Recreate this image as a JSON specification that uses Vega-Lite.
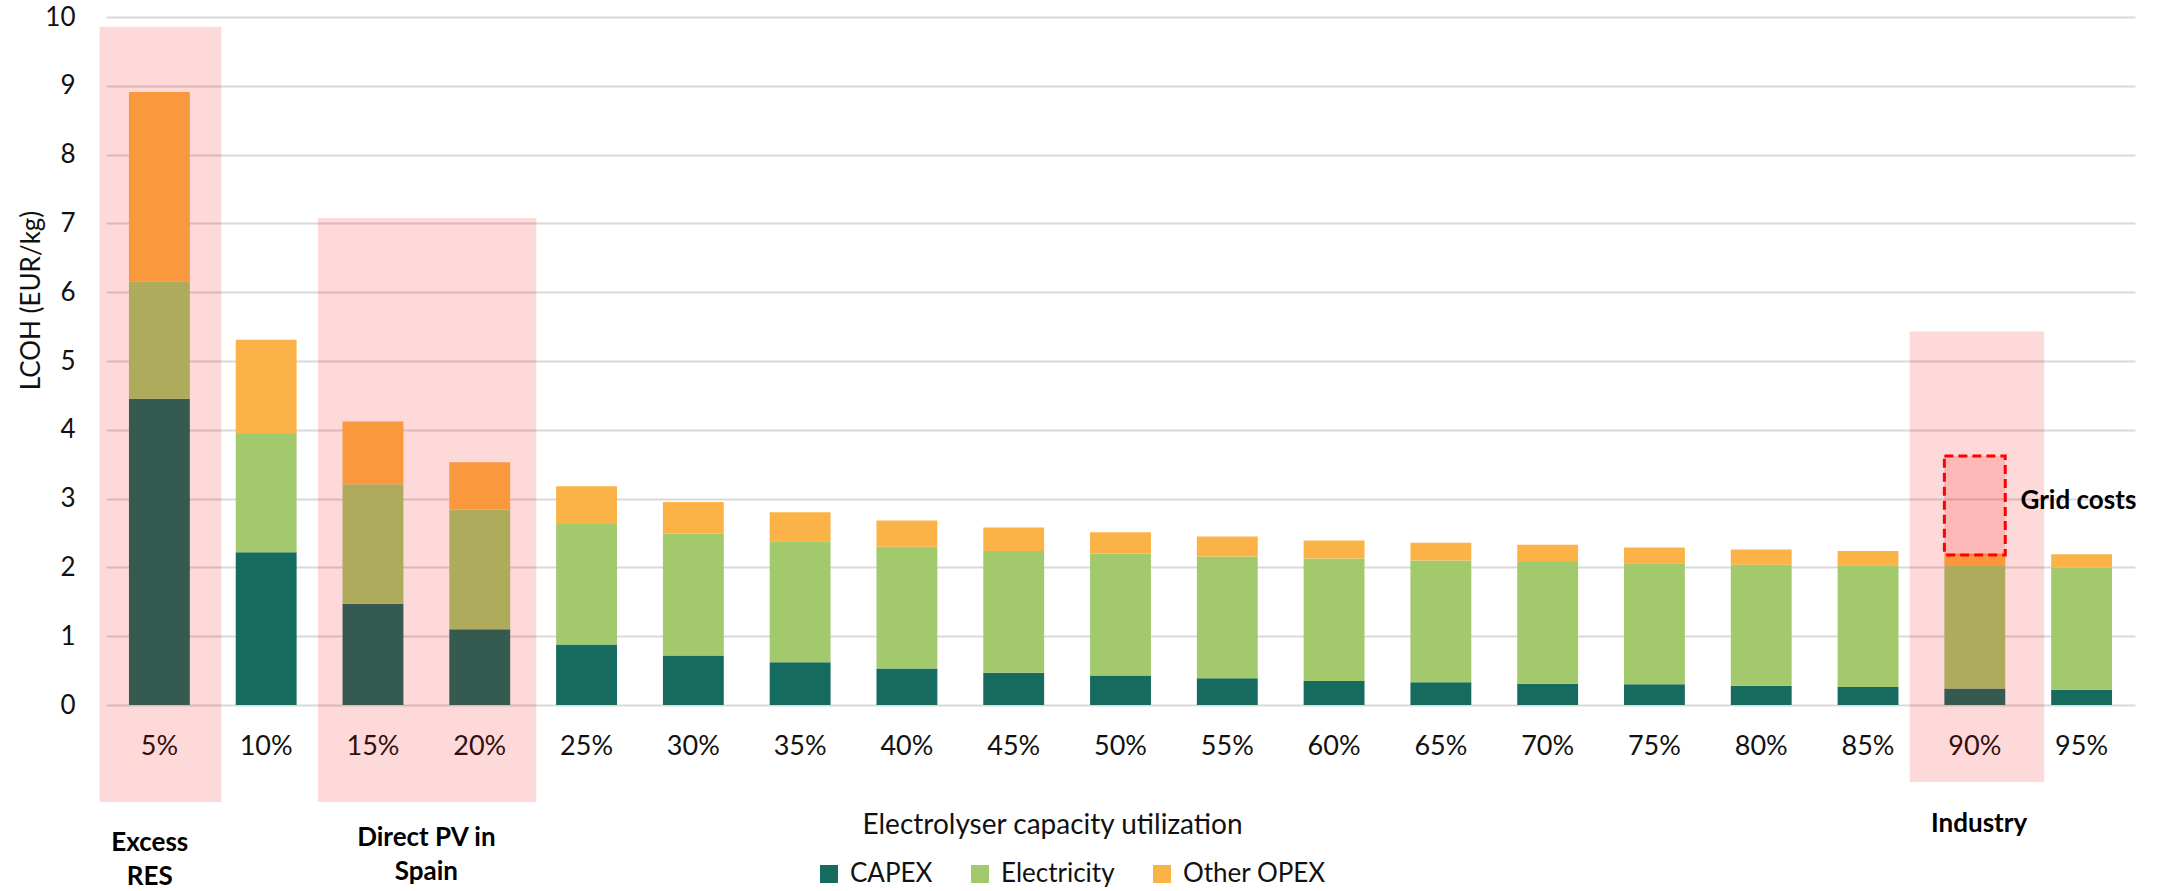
{
  "$schema": "https://vega.github.io/schema/vega-lite/v6.json",
  "width": 2029,
  "height": 688,
  "autosize": {"type": "none"},
  "padding": {"left": 106, "top": 17, "right": 27, "bottom": 186},
  "background": "white",
  "config": {
    "font": "Lato",
    "view": {"stroke": null},
    "axis": {
      "labelFont": "Lato",
      "titleFont": "Lato",
      "labelFontSize": 26,
      "titleFontSize": 26,
      "titleFontWeight": "normal",
      "labelColor": "#111111",
      "titleColor": "#111111",
      "ticks": false,
      "tickSize": 0,
      "domain": false,
      "gridColor": "#d9d9d9",
      "gridWidth": 2
    },
    "axisX": {
      "grid": false,
      "labelAngle": 0,
      "labelFontSize": 27,
      "labelPadding": 41,
      "labelBaseline": "middle",
      "titleFontSize": 28,
      "titleX": 946,
      "titleY": 120,
      "titleAlign": "center",
      "titleBaseline": "middle"
    },
    "axisY": {
      "grid": true,
      "tickCount": 10,
      "labelPadding": 31,
      "titleAngle": -90,
      "titleX": -75,
      "titleY": 283,
      "titleAlign": "center",
      "titleBaseline": "middle"
    },
    "legend": {
      "orient": "none",
      "legendX": 710,
      "legendY": 844,
      "direction": "horizontal",
      "title": null,
      "symbolType": "square",
      "symbolSize": 324,
      "symbolStrokeWidth": 0,
      "labelFont": "Lato",
      "labelFontSize": 26,
      "labelColor": "#111111",
      "labelOffset": 8,
      "columnPadding": 34
    }
  },
  "datasets": {
    "costs": [
      {"u": "5%", "c": "CAPEX", "v": 4.45}, {"u": "5%", "c": "Electricity", "v": 1.71}, {"u": "5%", "c": "Other OPEX", "v": 2.75},
      {"u": "10%", "c": "CAPEX", "v": 2.22}, {"u": "10%", "c": "Electricity", "v": 1.72}, {"u": "10%", "c": "Other OPEX", "v": 1.37},
      {"u": "15%", "c": "CAPEX", "v": 1.47}, {"u": "15%", "c": "Electricity", "v": 1.74}, {"u": "15%", "c": "Other OPEX", "v": 0.91},
      {"u": "20%", "c": "CAPEX", "v": 1.10}, {"u": "20%", "c": "Electricity", "v": 1.74}, {"u": "20%", "c": "Other OPEX", "v": 0.69},
      {"u": "25%", "c": "CAPEX", "v": 0.88}, {"u": "25%", "c": "Electricity", "v": 1.75}, {"u": "25%", "c": "Other OPEX", "v": 0.55},
      {"u": "30%", "c": "CAPEX", "v": 0.72}, {"u": "30%", "c": "Electricity", "v": 1.77}, {"u": "30%", "c": "Other OPEX", "v": 0.46},
      {"u": "35%", "c": "CAPEX", "v": 0.62}, {"u": "35%", "c": "Electricity", "v": 1.76}, {"u": "35%", "c": "Other OPEX", "v": 0.42},
      {"u": "40%", "c": "CAPEX", "v": 0.53}, {"u": "40%", "c": "Electricity", "v": 1.77}, {"u": "40%", "c": "Other OPEX", "v": 0.38},
      {"u": "45%", "c": "CAPEX", "v": 0.47}, {"u": "45%", "c": "Electricity", "v": 1.77}, {"u": "45%", "c": "Other OPEX", "v": 0.34},
      {"u": "50%", "c": "CAPEX", "v": 0.43}, {"u": "50%", "c": "Electricity", "v": 1.77}, {"u": "50%", "c": "Other OPEX", "v": 0.31},
      {"u": "55%", "c": "CAPEX", "v": 0.39}, {"u": "55%", "c": "Electricity", "v": 1.77}, {"u": "55%", "c": "Other OPEX", "v": 0.29},
      {"u": "60%", "c": "CAPEX", "v": 0.35}, {"u": "60%", "c": "Electricity", "v": 1.78}, {"u": "60%", "c": "Other OPEX", "v": 0.26},
      {"u": "65%", "c": "CAPEX", "v": 0.33}, {"u": "65%", "c": "Electricity", "v": 1.77}, {"u": "65%", "c": "Other OPEX", "v": 0.26},
      {"u": "70%", "c": "CAPEX", "v": 0.31}, {"u": "70%", "c": "Electricity", "v": 1.77}, {"u": "70%", "c": "Other OPEX", "v": 0.25},
      {"u": "75%", "c": "CAPEX", "v": 0.30}, {"u": "75%", "c": "Electricity", "v": 1.76}, {"u": "75%", "c": "Other OPEX", "v": 0.23},
      {"u": "80%", "c": "CAPEX", "v": 0.28}, {"u": "80%", "c": "Electricity", "v": 1.76}, {"u": "80%", "c": "Other OPEX", "v": 0.22},
      {"u": "85%", "c": "CAPEX", "v": 0.26}, {"u": "85%", "c": "Electricity", "v": 1.77}, {"u": "85%", "c": "Other OPEX", "v": 0.21},
      {"u": "90%", "c": "CAPEX", "v": 0.24}, {"u": "90%", "c": "Electricity", "v": 1.78}, {"u": "90%", "c": "Other OPEX", "v": 0.18},
      {"u": "95%", "c": "CAPEX", "v": 0.22}, {"u": "95%", "c": "Electricity", "v": 1.78}, {"u": "95%", "c": "Other OPEX", "v": 0.19}
    ],
    "gridcost": [
      {"u": "90%", "lo": 2.18, "hi": 3.62}
    ],
    "zones": [
      {"x0": -0.06, "x1": 1.08, "y0": -1.41, "y1": 9.86},
      {"x0": 1.985, "x1": 4.03, "y0": -1.41, "y1": 7.08},
      {"x0": 16.89, "x1": 18.15, "y0": -1.12, "y1": 5.43}
    ],
    "notes": [
      {"x": 0.41, "y": -2.01, "t": "Excess\nRES"},
      {"x": 3.0, "y": -1.93, "t": "Direct PV in\nSpain"},
      {"x": 17.54, "y": -1.73, "t": "Industry"},
      {"x": 18.47, "y": 2.96, "t": "Grid costs"}
    ]
  },
  "layer": [
    {
      "layer": [
        {
          "data": {"name": "costs"},
          "mark": {"type": "bar"},
          "encoding": {
            "x": {
              "field": "u",
              "type": "nominal",
              "title": "Electrolyser capacity utilization",
              "sort": null,
              "scale": {
                "domain": ["5%", "10%", "15%", "20%", "25%", "30%", "35%", "40%", "45%", "50%", "55%", "60%", "65%", "70%", "75%", "80%", "85%", "90%", "95%"],
                "paddingInner": 0.43,
                "paddingOuter": 0.215
              }
            },
            "y": {
              "field": "v",
              "type": "quantitative",
              "stack": "zero",
              "title": "LCOH (EUR/kg)",
              "scale": {"domain": [0, 10], "nice": false}
            },
            "color": {
              "field": "c",
              "type": "nominal",
              "scale": {
                "domain": ["CAPEX", "Electricity", "Other OPEX"],
                "range": ["#146b5e", "#a3c96d", "#fbb347"]
              }
            },
            "order": {"field": "c", "sort": "ascending"}
          }
        },
        {
          "data": {"name": "gridcost"},
          "mark": {
            "type": "bar",
            "fill": "#ff0000",
            "fillOpacity": 0.15,
            "stroke": "#ff0000",
            "strokeWidth": 3,
            "strokeDash": [9, 5]
          },
          "encoding": {
            "x": {"field": "u", "type": "nominal", "title": "Electrolyser capacity utilization"},
            "y": {"field": "lo", "type": "quantitative", "title": "LCOH (EUR/kg)", "scale": {"domain": [0, 10], "nice": false}},
            "y2": {"field": "hi"}
          }
        }
      ]
    },
    {
      "data": {"name": "zones"},
      "mark": {"type": "rect", "fill": "#f20000", "opacity": 0.15},
      "encoding": {
        "x": {"field": "x0", "type": "quantitative", "axis": null, "scale": {"domain": [0, 19], "nice": false, "zero": false}},
        "x2": {"field": "x1"},
        "y": {"field": "y0", "type": "quantitative", "title": "LCOH (EUR/kg)", "scale": {"domain": [0, 10], "nice": false}},
        "y2": {"field": "y1"}
      }
    },
    {
      "data": {"name": "notes"},
      "mark": {
        "type": "text",
        "font": "Lato",
        "fontSize": 26,
        "fontWeight": "bold",
        "color": "#000000",
        "align": "center",
        "baseline": "middle",
        "lineBreak": "\n",
        "lineHeight": 34
      },
      "encoding": {
        "x": {"field": "x", "type": "quantitative", "axis": null, "scale": {"domain": [0, 19], "nice": false, "zero": false}},
        "y": {"field": "y", "type": "quantitative", "title": "LCOH (EUR/kg)", "scale": {"domain": [0, 10], "nice": false}},
        "text": {"field": "t", "type": "nominal"}
      }
    }
  ],
  "resolve": {"scale": {"x": "independent"}}
}
